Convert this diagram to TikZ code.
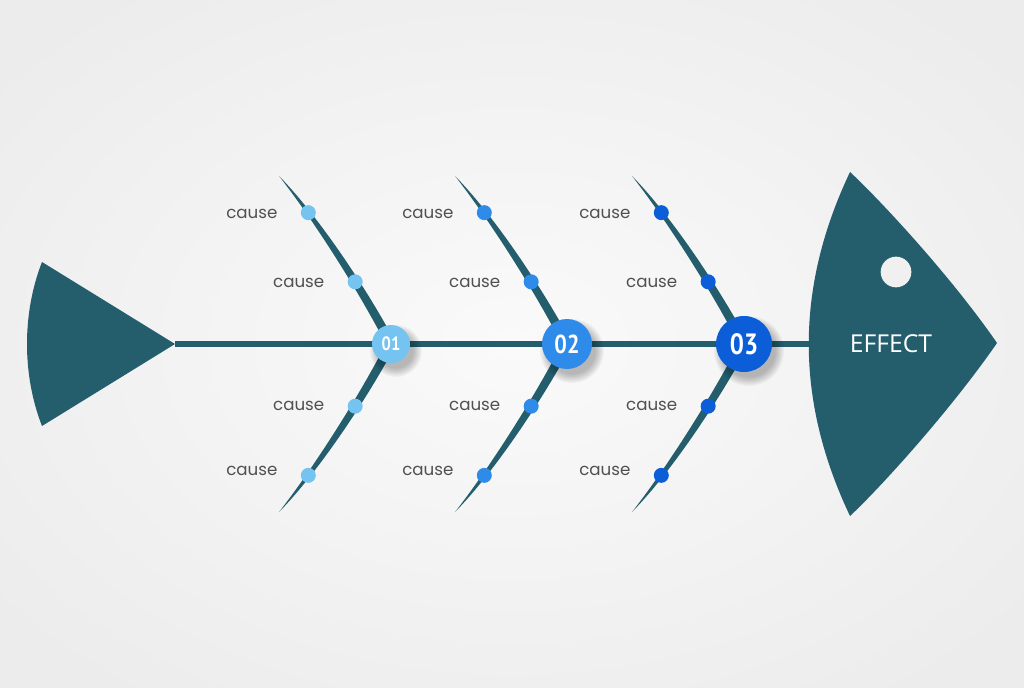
\documentclass[tikz,border=0pt]{standalone}
\usepackage{fontspec}
\usepackage{graphicx}
\setmainfont{Open Sans}
\newfontfamily\causefont{Poppins}
\newfontfamily\numfont{PT Sans}
\usetikzlibrary{calc}
\definecolor{fish}{HTML}{245E6D}
\definecolor{bgout}{HTML}{ECECEC}
\definecolor{bgin}{HTML}{FAFAFA}
\definecolor{eyecol}{HTML}{F0F0F0}
\definecolor{cA}{HTML}{74C3F0}
\definecolor{cB}{HTML}{2E8BEA}
\definecolor{cC}{HTML}{0B5ED7}
\definecolor{txt}{HTML}{505050}
\pgfdeclareradialshading{glow}{\pgfpoint{0bp}{0bp}}{color(0bp)=(bgin); color(32bp)=(bgout); color(50bp)=(bgout)}
\tikzset{
  dot/.style={circle, inner sep=0pt, minimum size=11.25pt},
  cause/.style={inner sep=0pt, text=txt, font=\causefont\fontsize{12.5}{14}\selectfont},
  numcirc/.style={circle, inner sep=0pt, text=white},
}
\newcommand\bonepath{(0,0) .. controls (-27,-52) and (-75,-126) .. (-112,-168)}
\newcommand\bonefill{\fill[fish] (4,-2.3) .. controls (-23.5,-54) and (-72.5,-128) .. (-112,-168) .. controls (-77.5,-124) and (-30.5,-50) .. (-4,2.3) -- cycle;}
\newcommand\fishbone[3]{%
  \begin{scope}[shift={(#1)}]
    \bonefill
    \path \bonepath node[dot,fill=#2,pos=0.36] (#3ua) {} node[dot,fill=#2,pos=0.75] (#3ub) {};
  \end{scope}
  \begin{scope}[shift={(#1)},yscale=-1]
    \bonefill
    \path \bonepath node[dot,fill=#2,pos=0.36] (#3la) {} node[dot,fill=#2,pos=0.75] (#3lb) {};
  \end{scope}
  \node[cause,anchor=east] (#3uat) at ([xshift=-23pt,yshift=-0.8pt]#3ua.center) {cause};
  \node[cause,anchor=east] (#3ubt) at ([xshift=-23pt,yshift=-0.8pt]#3ub.center) {cause};
  \node[cause,anchor=east] (#3lat) at ([xshift=-23pt]#3la.center) {cause};
  \node[cause,anchor=east] (#3lbt) at ([xshift=-23pt,yshift=3.5pt]#3lb.center) {cause};
}
\newcommand\circshadow[2]{%
  \foreach \k in {1,...,8} \fill[black,opacity=0.035] ($(#1)+(5,7)$) circle[radius=#2+\k*0.9pt-2pt];
}
\begin{document}
\begin{tikzpicture}[x=0.75pt,y=-0.75pt]
\useasboundingbox (0,0) rectangle (1024,688);
\shade[shading=glow] (0,0) rectangle (1024,688);
% coordinates
\coordinate (k1) at (391,344);
\coordinate (k2) at (567,344);
\coordinate (k3) at (744,344);
\coordinate (tailtip) at (175,344);
\coordinate (headL) at (815,344);
% tail
\fill[fish] (42,262) -- (tailtip) -- (42,426) .. controls (22,375) and (22,313) .. (42,262) -- cycle;
% head
\fill[fish] (850,172) .. controls (880,200) and (950,275) .. (997,343)
  .. controls (950,411) and (880,488) .. (850,516)
  .. controls (795,400) and (795,288) .. (850,172) -- cycle;
\fill[eyecol] (896,272) circle[radius=11.5pt];
\node[text=white, font=\fontsize{18.5}{20}\selectfont, inner sep=0pt] (effect) at (891,344) {EFFECT};
% spine
\draw[fish, line width=4.1pt] (tailtip) -- (headL);
% bones
\fishbone{k1}{cA}{a}
\fishbone{k2}{cB}{b}
\fishbone{k3}{cC}{c}
% circles
\circshadow{k1}{14.25pt}
\circshadow{k2}{18.75pt}
\circshadow{k3}{21pt}
\node[numcirc, fill=cA, minimum size=28.5pt, font=\numfont\bfseries\fontsize{14.5}{16}\selectfont] (c1) at (k1) {\scalebox{0.85}[1]{01}};
\node[numcirc, fill=cB, minimum size=37.5pt, font=\numfont\bfseries\fontsize{19.5}{21}\selectfont] (c2) at (k2) {\scalebox{0.85}[1]{02}};
\node[numcirc, fill=cC, minimum size=42pt, font=\numfont\bfseries\fontsize{22}{24}\selectfont] (c3) at (k3) {\scalebox{0.85}[1]{03}};
\end{tikzpicture}
\end{document}
